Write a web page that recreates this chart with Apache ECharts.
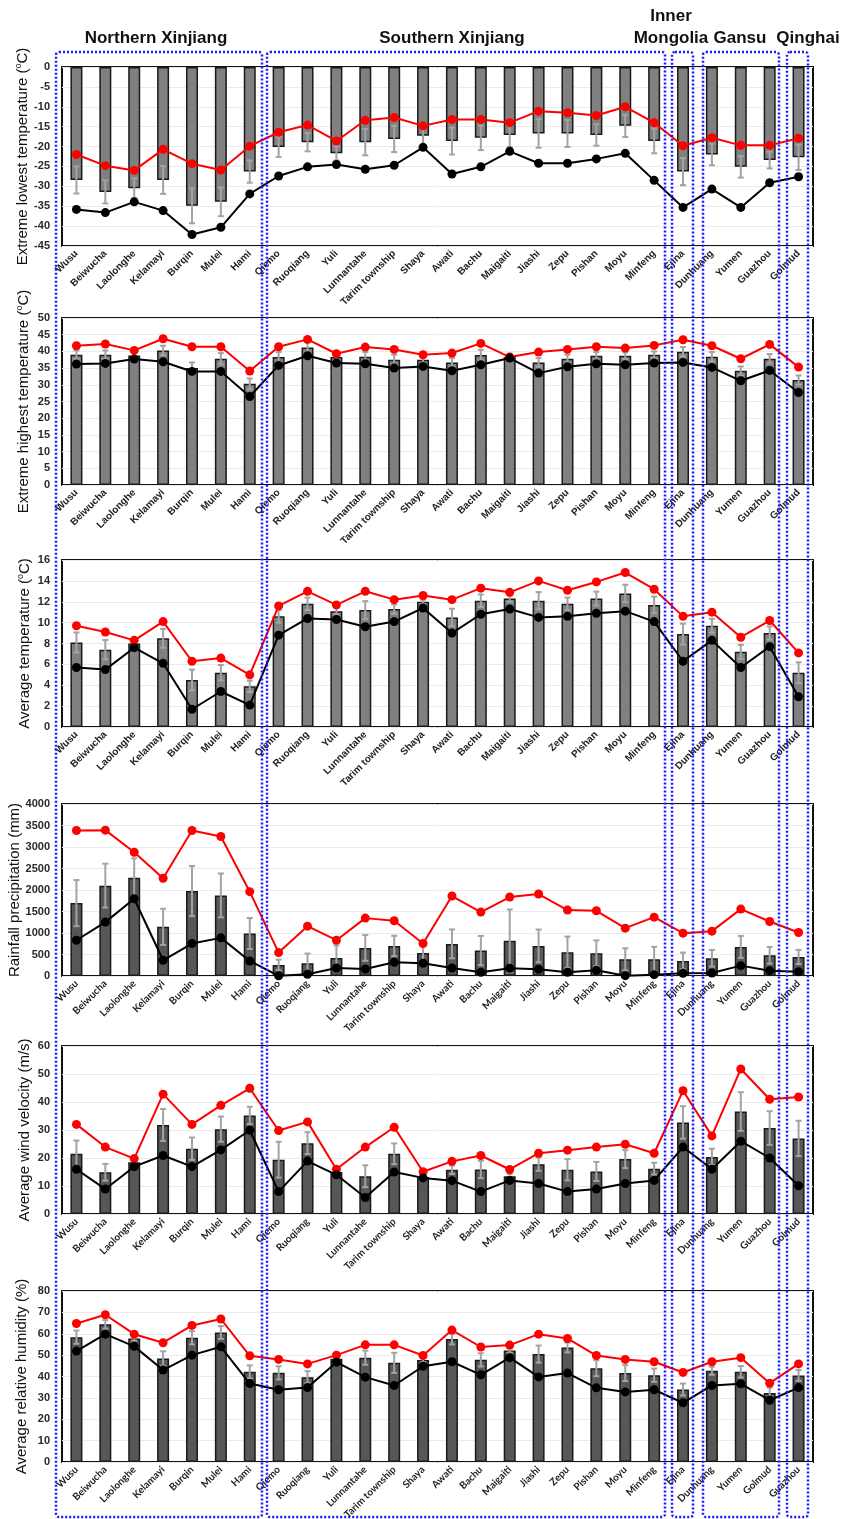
<!DOCTYPE html>
<html>
<head>
<meta charset="utf-8">
<script src="https://cdn.jsdelivr.net/npm/echarts@6/dist/echarts.min.js"></script>
<style>
  html, body { margin: 0; padding: 0; background: #fff; }
  #chart { width: 844px; height: 1519px; }
</style>
</head>
<body>
<div id="chart"></div>
<script>
// Stations, grouped by region (Northern Xinjiang, Southern Xinjiang, Inner Mongolia, Gansu, Qinghai)
const stations = ['Wusu','Beiwucha','Laolonghe','Kelamayi','Burqin','Mulei','Hami',
  'Qiemo','Ruoqiang','Yuli','Lunnantahe','Tarim township','Shaya','Awati','Bachu','Maigaiti',
  'Jiashi','Zepu','Pishan','Moyu','Minfeng','Ejina','Dunhuang','Yumen','Guazhou','Golmud'];
// the humidity panel lists Golmud before Guazhou
const stationsRH = ['Wusu','Beiwucha','Laolonghe','Kelamayi','Burqin','Mulei','Hami',
  'Qiemo','Ruoqiang','Yuli','Lunnantahe','Tarim township','Shaya','Awati','Bachu','Maigaiti',
  'Jiashi','Zepu','Pishan','Moyu','Minfeng','Ejina','Dunhuang','Yumen','Golmud','Guazhou'];

// Extreme lowest temperature (°C): mean, std, maximum, minimum
const lowMean = [-28.4,-31.4,-30.5,-28.4,-34.9,-33.9,-26.3,-20.1,-18.9,-21.7,-18.9,-18.1,-17.3,-18.6,-17.8,-17.1,-16.7,-16.7,-17.1,-14.8,-18.6,-26.3,-22.0,-25.1,-23.4,-22.7];
const lowErr  = [3.4,2.9,2.5,3.5,4.4,3.6,2.8,2.5,2.3,1.8,3.3,3.3,2.3,3.4,3.1,3.0,3.6,3.4,2.7,2.8,3.1,3.4,2.7,2.7,2.1,3.2];
const lowMax  = [-22.0,-24.8,-26.0,-20.7,-24.3,-25.9,-19.9,-16.4,-14.6,-18.6,-13.4,-12.7,-14.8,-13.2,-13.2,-14.0,-11.1,-11.5,-12.2,-10.0,-14.0,-19.8,-17.8,-19.7,-19.7,-17.9];
const lowMin  = [-35.8,-36.6,-33.9,-36.1,-42.1,-40.3,-31.9,-27.4,-25.1,-24.5,-25.7,-24.7,-20.2,-26.9,-25.1,-21.2,-24.2,-24.2,-23.1,-21.7,-28.5,-35.3,-30.7,-35.3,-29.1,-27.6];

// Extreme highest temperature (°C)
const highMean = [39.0,39.0,38.8,40.3,35.0,37.8,30.3,38.3,41.2,38.3,38.4,37.5,37.5,36.7,38.9,38.3,36.7,37.8,38.7,38.7,39.0,39.9,38.4,34.2,37.8,31.4];
const highErr  = [1.3,1.3,1.0,1.4,1.7,1.7,1.6,1.5,1.5,1.0,1.4,1.5,1.0,1.3,1.6,1.0,1.3,1.2,1.1,1.0,1.0,1.4,1.4,1.3,1.4,1.4];
const highMax  = [41.7,42.2,40.3,43.8,41.4,41.4,34.1,41.4,43.6,39.3,41.3,40.6,39.0,39.5,42.4,38.3,39.8,40.6,41.4,41.0,41.8,43.5,41.7,37.8,42.1,35.3];
const highMin  = [36.2,36.4,37.7,36.9,34.0,34.0,26.5,35.8,38.7,36.5,36.3,35.0,35.5,34.2,36.0,38.0,33.5,35.4,36.3,36.0,36.5,36.7,35.2,31.2,34.3,27.7];

// Average temperature (°C)
const avgMean = [8.1,7.4,8.0,8.5,4.5,5.2,3.9,10.6,11.8,11.1,11.2,11.3,12.0,10.5,12.1,12.3,12.1,11.8,12.3,12.8,11.7,8.9,9.7,7.2,9.0,5.2];
const avgErr  = [0.96,0.93,0.2,0.9,1.0,0.74,0.55,0.6,0.6,0.3,0.86,0.45,0.2,0.83,0.6,0.3,0.83,0.6,0.67,0.83,0.8,1.0,0.67,0.67,0.64,1.0];
const avgMax  = [9.7,9.1,8.3,10.1,6.3,6.6,5.0,11.6,13.0,11.7,13.0,12.2,12.6,12.2,13.3,12.9,14.0,13.1,13.9,14.8,13.2,10.6,11.0,8.6,10.2,7.1];
const avgMin  = [5.7,5.5,7.6,6.1,1.7,3.4,2.1,8.8,10.4,10.3,9.6,10.1,11.4,9.0,10.8,11.3,10.5,10.6,10.9,11.1,10.1,6.3,8.3,5.7,7.7,2.9];

// Rainfall precipitation (mm)
const rainMean = [1696,2101,2287,1144,1976,1875,988,257,296,420,654,700,537,747,591,817,700,552,529,389,389,350,412,677,482,443];
const rainErr  = [537,510,450,420,580,510,360,125,225,290,300,235,220,335,340,730,380,365,300,255,290,195,195,255,195,165];
const rainMax  = [3384,3392,2879,2272,3384,3244,1961,545,1159,832,1346,1284,755,1860,1486,1836,1906,1533,1517,1113,1369,996,1043,1556,1268,1011];
const rainMin  = [832,1253,1797,366,755,887,350,5,39,187,163,319,296,187,86,179,156,86,132,8,31,62,70,241,124,101];

// Average wind velocity (m/s)
const windMean = [21.5,14.9,18.5,31.8,23.3,30.3,35.2,19.4,25.3,15.0,13.5,21.5,13.2,15.8,15.9,13.5,17.8,15.8,15.2,19.6,16.2,32.7,20.4,36.6,30.7,27.0];
const windErr  = [4.75,3.0,1.0,5.7,4.0,4.5,3.1,6.4,3.9,1.0,3.9,3.7,1.0,1.5,3.1,0.8,2.4,3.8,3.4,3.2,2.1,5.8,2.9,6.9,6.0,6.3];
const windMax  = [32.0,23.9,19.8,42.8,32.0,38.8,44.9,29.8,32.9,16.0,23.9,31.0,15.1,18.8,20.9,15.9,21.7,22.8,23.9,24.9,21.7,44.0,27.9,51.8,41.0,41.8];
const windMin  = [16.0,8.9,16.9,20.9,16.9,22.9,29.9,8.0,18.9,14.0,5.9,15.0,12.9,11.9,8.0,12.0,10.9,8.0,8.9,10.9,12.0,23.9,16.0,26.0,20.0,10.1];

// Average relative humidity (%), in stationsRH order
const rhMean = [58.4,64.4,57.8,48.4,58.1,60.6,42.2,41.7,39.7,48.3,48.8,46.4,47.7,57.5,47.8,52.2,50.5,53.6,43.9,41.6,40.6,33.9,42.7,42.2,32.3,40.5];
const rhErr  = [3.1,2.0,1.0,3.4,3.1,3.0,3.0,3.1,2.8,1.0,3.3,4.7,1.0,2.5,3.1,1.0,4.0,2.3,3.75,3.75,3.1,2.8,1.9,2.7,2.5,2.5];
const rhMax  = [64.8,68.9,59.8,55.8,63.9,66.9,49.7,48.0,45.9,50.0,54.8,54.8,49.8,61.7,53.8,54.7,59.8,57.8,49.8,48.0,46.9,41.9,46.9,48.8,36.9,45.9];
const rhMin  = [51.9,59.8,54.1,43.0,50.0,53.9,36.7,33.8,34.8,46.7,39.7,35.8,44.8,46.9,40.8,48.8,39.8,41.6,34.7,32.8,33.8,27.7,35.8,36.6,28.9,34.8];

// Axis titles and ranges of the six panels
const axisTitles = [
  'Extreme lowest temperature ({sup|o}C)',
  'Extreme highest temperature ({sup|o}C)',
  'Average temperature ({sup|o}C)',
  'Rainfall precipitation (mm)',
  'Average wind velocity (m/s)',
  'Average relative humidity (%)'
];
const axisMin = [-45, 0, 0, 0, 0, 0];
const axisMax = [0, 50, 16, 4000, 60, 80];
const axisStep = [5, 5, 2, 500, 10, 10];

const regionNames = ['Northern Xinjiang', 'Southern Xinjiang', 'Inner\nMongolia', 'Gansu', 'Qinghai'];

const panelData = [
  { cats: stations,   mean: lowMean,  err: lowErr,  hi: lowMax,  lo: lowMin },
  { cats: stations,   mean: highMean, err: highErr, hi: highMax, lo: highMin },
  { cats: stations,   mean: avgMean,  err: avgErr,  hi: avgMax,  lo: avgMin },
  { cats: stations,   mean: rainMean, err: rainErr, hi: rainMax, lo: rainMin },
  { cats: stations,   mean: windMean, err: windErr, hi: windMax, lo: windMin },
  { cats: stationsRH, mean: rhMean,   err: rhErr,   hi: rhMax,   lo: rhMin }
];

// ---- layout ----
const FONT = '"Liberation Sans", Arial, Helvetica, sans-serif';
const panelLayout = [
  { top: 67,   h: 179, fill: '#808080', nameGap: 30 },
  { top: 318,  h: 167, fill: '#808080', nameGap: 29 },
  { top: 560,  h: 167, fill: '#808080', nameGap: 28 },
  { top: 804,  h: 172, fill: '#575757', nameGap: 38 },
  { top: 1046, h: 168, fill: '#575757', nameGap: 28 },
  { top: 1291, h: 171, fill: '#575757', nameGap: 31 }
];

function renderErrorBar(params, api) {
  const i = api.value(0);
  const a = api.coord([i, api.value(1)]);
  const b = api.coord([i, api.value(2)]);
  const cap = 3;
  const st = { stroke: '#a3a3a3', lineWidth: 2 };
  return {
    type: 'group',
    children: [
      { type: 'line', shape: { x1: a[0], y1: a[1], x2: b[0], y2: b[1] }, style: st },
      { type: 'line', shape: { x1: a[0] - cap, y1: a[1], x2: a[0] + cap, y2: a[1] }, style: st },
      { type: 'line', shape: { x1: b[0] - cap, y1: b[1], x2: b[0] + cap, y2: b[1] }, style: st }
    ]
  };
}

const grids = [], xAxes = [], yAxes = [], series = [];
panelData.forEach((p, i) => {
  const L = panelLayout[i];
  grids.push({
    left: 62, right: 31, top: L.top, height: L.h,
    show: true, borderColor: '#111', borderWidth: 2, backgroundColor: 'transparent',
    containLabel: false, outerBoundsMode: 'none'
  });
  xAxes.push({
    type: 'category', gridIndex: i, data: p.cats, boundaryGap: true,
    axisLine: { show: false, onZero: false }, axisTick: { show: false },
    splitLine: { show: false },
    axisLabel: {
      interval: 0, rotate: 45, margin: 6,
      fontFamily: i < 3 ? FONT : 'Lato, ' + FONT,
      fontSize: 10, fontWeight: 'bold', color: '#222'
    }
  });
  yAxes.push({
    type: 'value', gridIndex: i, min: axisMin[i], max: axisMax[i], interval: axisStep[i],
    axisLine: { show: false }, axisTick: { show: false },
    splitLine: { show: true, lineStyle: { color: '#ebebeb', width: 1 } },
    axisLabel: {
      fontFamily: FONT, fontSize: 11, fontWeight: 'bold', color: '#2a2a2a', margin: 12,
      formatter: v => String(v)
    },
    name: axisTitles[i], nameLocation: 'middle', nameRotate: 90, nameGap: L.nameGap,
    nameMoveOverlap: false,
    nameTextStyle: {
      fontFamily: FONT, fontSize: 15, color: '#111', lineHeight: 18,
      rich: { sup: { fontFamily: FONT, fontSize: 9, color: '#111', lineHeight: 18, verticalAlign: 'top' } }
    }
  });
  series.push({
    type: 'bar', xAxisIndex: i, yAxisIndex: i, data: p.mean, barWidth: 12, z: 2,
    itemStyle: { color: L.fill, borderColor: '#1a1a1a', borderWidth: 1.5 }
  });
  series.push({
    type: 'custom', xAxisIndex: i, yAxisIndex: i, z: 3,
    renderItem: renderErrorBar,
    encode: { x: 0, y: [1, 2] },
    data: p.mean.map((m, k) => [k, m - p.err[k], m + p.err[k]])
  });
  series.push({
    type: 'line', xAxisIndex: i, yAxisIndex: i, data: p.hi, z: 4,
    symbol: 'circle', symbolSize: 9,
    lineStyle: { color: '#ff0000', width: 2 }, itemStyle: { color: '#ff0000' }
  });
  series.push({
    type: 'line', xAxisIndex: i, yAxisIndex: i, data: p.lo, z: 5,
    symbol: 'circle', symbolSize: 9,
    lineStyle: { color: '#000', width: 2 }, itemStyle: { color: '#000' }
  });
});

// Dotted region frames and region headings
const boxStyle = { fill: 'none', stroke: '#1a1aff', lineWidth: 2.5, lineDash: [2, 2] };
const regionBoxes = [
  [56, 262], [267, 665], [672, 693], [703, 779], [787, 808]
];
const headingPos = [[156, 38], [452, 38], [671, 27], [740, 38], [808, 38]];

const graphics = [];
regionBoxes.forEach(([x0, x1]) => {
  graphics.push({
    type: 'rect', z: 100, silent: true,
    shape: { x: x0, y: 52, width: x1 - x0, height: 1465, r: 3 },
    style: boxStyle
  });
});
regionNames.forEach((t, k) => {
  graphics.push({
    type: 'text', z: 101, silent: true,
    x: headingPos[k][0], y: headingPos[k][1],
    style: {
      text: t, fill: '#111', font: 'bold 17px ' + FONT, lineHeight: 22,
      align: 'center', verticalAlign: 'middle',
      textAlign: 'center', textVerticalAlign: 'middle'
    }
  });
});

const chart = echarts.init(document.getElementById('chart'), null, { renderer: 'canvas' });
chart.setOption({
  animation: false,
  backgroundColor: '#fff',
  grid: grids,
  xAxis: xAxes,
  yAxis: yAxes,
  series: series,
  graphic: graphics
});
</script>
</body>
</html>
